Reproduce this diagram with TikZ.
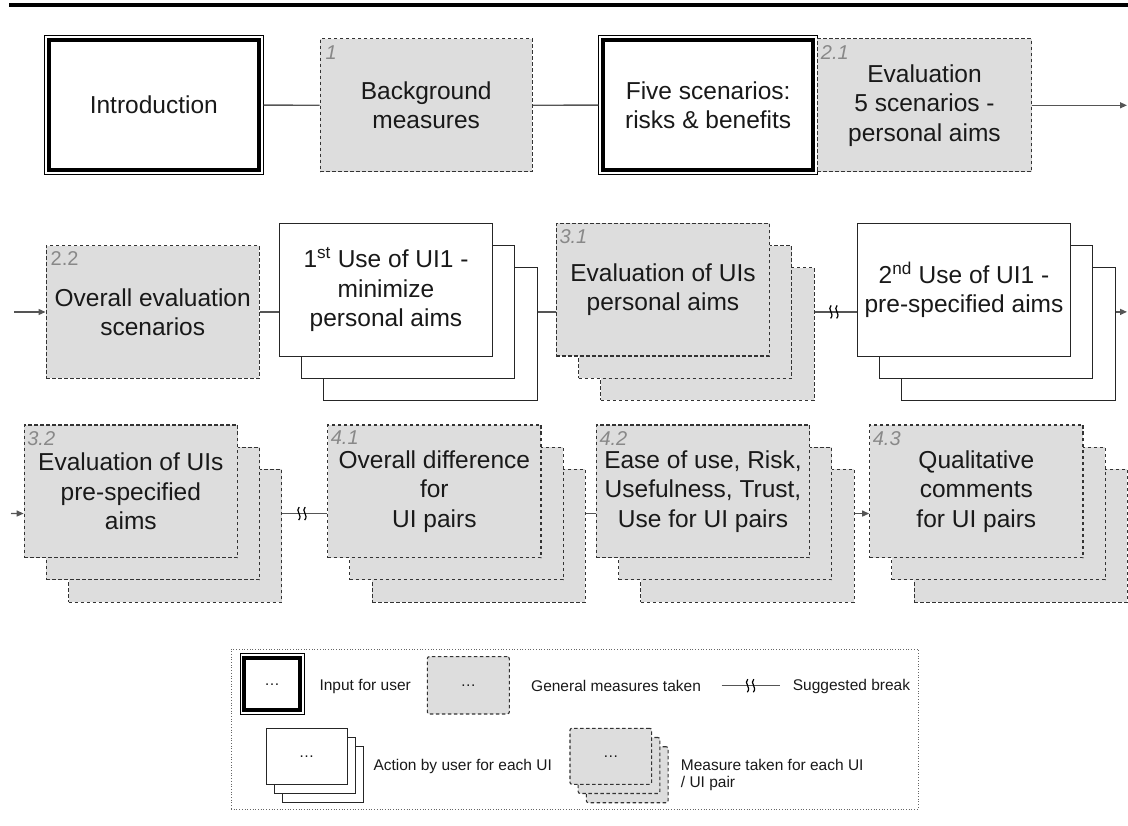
\documentclass[tikz,border=0pt]{standalone}
\usepackage{fontspec}
\setmainfont{Liberation Sans}
\usetikzlibrary{arrows.meta, positioning, calc, backgrounds, fit}

\definecolor{boxgray}{HTML}{DDDDDD}
\definecolor{edgegray}{HTML}{333333}
\definecolor{taggray}{HTML}{888888}
\definecolor{linkgray}{HTML}{555555}

\begin{document}
\begin{tikzpicture}[
    x=1pt, y=-1pt,
    >={Triangle[length=7pt, width=6pt]},
    % Define styles
    boxtext/.style={font=\fontsize{24.5}{29.5}\selectfont, text=black!90, align=center, inner sep=1pt},
    inputbox/.style={rectangle, draw=black, line width=4.3pt, fill=white, minimum width=210pt, minimum height=130.6pt, boxtext},
    inframe/.style={rectangle, draw=black, line width=0.8pt, inner sep=2.25pt},
    measure/.style={rectangle, draw=edgegray, dash pattern=on 3.5pt off 2.5pt, line width=1.1pt, fill=boxgray, minimum width=213.3pt, minimum height=132.7pt, boxtext},
    userbox/.style={rectangle, draw=black!85, line width=1pt, fill=white, minimum width=213.3pt, minimum height=132.7pt, boxtext},
    tag/.style={anchor=north west, inner sep=0pt, text=taggray, font=\fontsize{20}{20}\selectfont\itshape},
    tagup/.style={tag, font=\fontsize{20}{20}\selectfont},
    link/.style={draw=linkgray, line width=1.3pt},
    legtext/.style={anchor=west, inner sep=0pt, text=black!90, font=\fontsize{15.5}{17}\selectfont, align=left},
    legframe/.style={rectangle, draw=black!60, dotted, line width=0.7pt, minimum width=687pt, minimum height=160pt},
    breakmark/.pic={
        \draw[line width=1.2pt, black] (-2.5,-6.5) .. controls (-7,-2.5) and (1.5,1.5) .. (-3,6.5);
        \draw[line width=1.2pt, black] (3.5,-6.5) .. controls (-1,-2.5) and (7.5,1.5) .. (3,6.5);
    }
]
\useasboundingbox (0,0) rectangle (1128,826);

% top rule
\draw[line width=4.2pt] (9,5.3) -- (1128,5.3);

% 1. First row
\node[inputbox] (intro) at (153.8,105) {Introduction};
\node[inframe, fit=(intro)] (introframe) {};
\node[measure, minimum width=212.3pt] (bg) at (426.2,105.3) {Background\\measures};
\node[tag] (num1) at ([shift={(6,7)}]bg.north west) {1};
\node[inputbox] (five) at (708.2,105) {Five scenarios:\\risks \& benefits};
\node[inframe, fit=(five)] (fiveframe) {};
\node[measure, minimum width=214.4pt] (eval21) at (924.5,105.3) {Evaluation\\5 scenarios -\\personal aims};
\node[tag] (num21) at ([shift={(4,7)}]eval21.north west) {2.1};
\coordinate (row1end) at (1127,105.3);

% 2. Second row
\node[measure] (eval22) at (152.7,312) {Overall evaluation\\scenarios};
\node[tagup] (num22) at ([shift={(5,6)}]eval22.north west) {2.2};

\node[userbox] (use1) at (386,289.7) {1\textsuperscript{st} Use of UI1 -\\minimize\\personal aims};
\node[measure] (eval31) at (663,289.7) {Evaluation of UIs\\personal aims};
\node[tag] (num31) at ([shift={(3.5,6.5)}]eval31.north west) {3.1};
\node[userbox] (use2) at (964,289.7) {2\textsuperscript{nd} Use of UI1 -\\pre-specified aims};
\begin{scope}[on background layer]
    \node[userbox, shift={(44.4,44.4)}] (use1c) at (use1) {};
    \node[userbox, shift={(22.2,22.2)}] (use1b) at (use1) {};
    \node[measure, shift={(44.4,44.4)}] (eval31c) at (eval31) {};
    \node[measure, shift={(22.2,22.2)}] (eval31b) at (eval31) {};
    \node[userbox, shift={(44.4,44.4)}] (use2c) at (use2) {};
    \node[userbox, shift={(22.2,22.2)}] (use2b) at (use2) {};
\end{scope}
\coordinate (row2start) at (14,312);
\coordinate (row2end) at (1127,311.9);

% 3. Third row
\node[measure] (eval32) at (130.85,491.35) {Evaluation of UIs\\pre-specified\\aims};
\node[tag] (num32) at ([shift={(3.5,6.5)}]eval32.north west) {3.2};
\node[measure] (diff41) at (434.35,491.35) {Overall difference\\for\\UI pairs};
\node[tag] (num41) at ([shift={(3.5,6.5)}]diff41.north west) {4.1};
\node[measure] (ease42) at (703,491.35) {Ease of use, Risk,\\Usefulness, Trust,\\Use for UI pairs};
\node[tag] (num42) at ([shift={(3.5,6.5)}]ease42.north west) {4.2};
\node[measure] (qual43) at (976.35,491.35) {Qualitative\\comments\\for UI pairs};
\node[tag] (num43) at ([shift={(3.5,6.5)}]qual43.north west) {4.3};
\begin{scope}[on background layer]
    \node[measure, shift={(44.4,44.4)}] (eval32c) at (eval32) {};
    \node[measure, shift={(22.2,22.2)}] (eval32b) at (eval32) {};
    \node[measure, shift={(44.4,44.4)}] (diff41c) at (diff41) {};
    \node[measure, shift={(22.2,22.2)}] (diff41b) at (diff41) {};
    \node[measure, shift={(44.4,44.4)}] (ease42c) at (ease42) {};
    \node[measure, shift={(22.2,22.2)}] (ease42b) at (ease42) {};
    \node[measure, shift={(44.4,44.4)}] (qual43c) at (qual43) {};
    \node[measure, shift={(22.2,22.2)}] (qual43b) at (qual43) {};
\end{scope}
\coordinate (row3start) at (11,513.5);

% Connections
\draw[link] (introframe) -- (bg);
\draw[link] (bg) -- (fiveframe);
\draw[link, ->] (eval21) -- (row1end);

\draw[link, ->] (row2start) -- (eval22);
\draw[link] (eval22) -- (use1.west |- eval22.east);
\draw[link] (use1c.east |- use1b.center) -- (eval31.west |- use1b.center);
\draw[link] (eval31c.east |- eval31b.center) -- (use2.west |- eval31b.center) pic[pos=0.45]{breakmark};
\draw[link, ->] (use2c.east |- use2b.center) -- (row2end);

\draw[link, ->] (row3start) -- (eval32.west |- eval32b.center);
\draw[link] (eval32c.east |- eval32b.center) -- (diff41.west |- eval32b.center) pic[pos=0.43]{breakmark};
\draw[link] (diff41c.east |- diff41b.center) -- (ease42.west |- diff41b.center);
\draw[link, ->] (ease42c.east |- ease42b.center) -- (qual43.west |- ease42b.center);

% 4. Legend
\node[legframe] (legend) at (574.5,729) {};
\node[inputbox, line width=4pt, minimum width=55.3pt, minimum height=52.5pt, font=\fontsize{15.5}{17}\selectfont] (leginput) at (272,684.2) {\dots};
\node[inframe, fit=(leginput)] (leginputframe) {};
\node[legtext] (leginputtext) at (319.3,686) {Input for user};
\node[measure, rounded corners=2pt, minimum width=82pt, minimum height=57.3pt, font=\fontsize{15.5}{17}\selectfont] (legmeasure) at (468.3,685.3) {\dots};
\node[legtext] (legmeasuretext) at (531,686) {General measures taken};
\coordinate (legbreakA) at (721.7,685.7);
\coordinate (legbreakB) at (780,685.7);
\draw[link] (legbreakA) -- (legbreakB) pic[pos=0.49]{breakmark};
\node[legtext] (legbreaktext) at (792.7,686) {Suggested break};

\node[userbox, minimum width=81.3pt, minimum height=56pt, font=\fontsize{15.5}{17}\selectfont] (legaction) at (306.7,756.3) {\dots};
\node[measure, rounded corners=2pt, minimum width=81.7pt, minimum height=56pt, font=\fontsize{15.5}{17}\selectfont] (legstack) at (610.8,756.3) {\dots};
\begin{scope}[on background layer]
    \node[userbox, minimum width=81.3pt, minimum height=56pt, shift={(16.4,18.4)}] (legactionc) at (legaction) {};
    \node[userbox, minimum width=81.3pt, minimum height=56pt, shift={(8.2,9.2)}] (legactionb) at (legaction) {};
    \node[measure, rounded corners=2pt, minimum width=81.7pt, minimum height=56pt, shift={(16.4,18.4)}] (legstackc) at (legstack) {};
    \node[measure, rounded corners=2pt, minimum width=81.7pt, minimum height=56pt, shift={(8.2,9.2)}] (legstackb) at (legstack) {};
\end{scope}
\node[legtext] (legactiontext) at (373.3,766) {Action by user for each UI};
\node[legtext] (legstacktext) at (680.7,775) {Measure taken for each UI\\/ UI pair};

\end{tikzpicture}
\end{document}
